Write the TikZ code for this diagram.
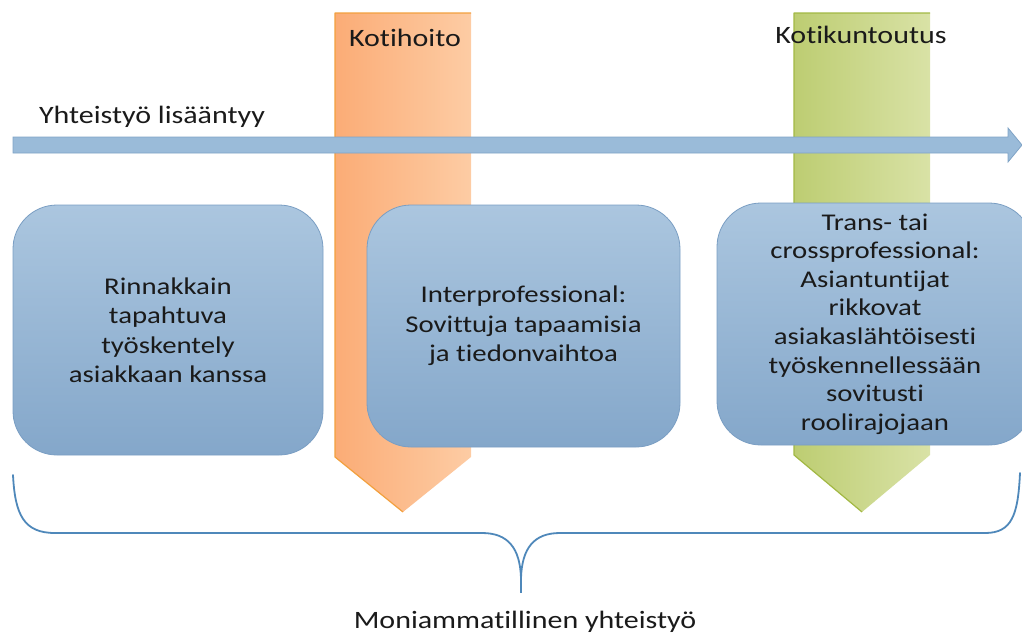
\documentclass[tikz,border=0pt]{standalone}
\usepackage{fontspec}
\setmainfont{Carlito}[FakeStretch=1.2, Ligatures=NoCommon]
\definecolor{orangeL}{HTML}{FBAC76}
\definecolor{orangeR}{HTML}{FDCCA4}
\definecolor{orangeEdge}{HTML}{F2A03E}
\definecolor{greenL}{HTML}{BDCD72}
\definecolor{greenR}{HTML}{D9E2A6}
\definecolor{greenEdge}{HTML}{A2B843}
\definecolor{barFill}{HTML}{9ABBD9}
\definecolor{barEdge}{HTML}{7FA3C6}
\definecolor{boxTop}{HTML}{ABC6DF}
\definecolor{boxBot}{HTML}{84A7CA}
\definecolor{boxEdge}{HTML}{7A9EC3}
\definecolor{braceCol}{HTML}{4F88BA}
\definecolor{ink}{HTML}{1A1A1A}
\tikzset{
  phasebox/.style={rounded corners=44pt, top color=boxTop, bottom color=boxBot,
    draw=boxEdge, line width=0.8pt, align=center, text=ink,
    font=\fontsize{24}{29.5}\selectfont, inner sep=0pt},
  label/.style={text=ink, font=\fontsize{25}{30}\selectfont, inner sep=0pt, anchor=base},
  edgeline/.style={line width=1.2pt, line join=round},
}
\begin{document}
\begin{tikzpicture}[x=1pt,y=-1pt]
\useasboundingbox (0,0) rectangle (1022,633);
\clip (0,0) rectangle (1022,633);

% service pointers behind everything
\shade[left color=orangeL, right color=orangeR]
  (335,13) -- (471,13) -- (471,457) -- (403,512) -- (335,457) -- cycle;
\draw[edgeline, orangeEdge] (471,13) -- (335,13) -- (335,457) -- (403,512);
\shade[left color=greenL, right color=greenR]
  (794,13) -- (930,13) -- (930,455) -- (862,512) -- (794,455) -- cycle;
\draw[edgeline, greenEdge] (930,13) -- (794,13) -- (794,455) -- (862,512);

\node[label] (koti) at (405,46) {Kotihoito};
\node[label] (kuntoutus) at (861,43) {Kotikuntoutus};

% growing collaboration arrow
\node[label] (growth) at (152,123) {Yhteistyö lisääntyy};
\filldraw[fill=barFill, draw=barEdge, line width=0.8pt]
  (13,137) -- (1008,137) -- (1008,128) -- (1022,145) -- (1008,162)
  -- (1008,153) -- (13,153) -- cycle;

% levels of collaboration
\node[phasebox, minimum width=310pt, minimum height=250pt] (rinnakkain) at (168,330)
  {Rinnakkain\\tapahtuva\\työskentely\\asiakkaan kanssa};
\node[phasebox, minimum width=313pt, minimum height=242pt] (inter) at (523.5,326)
  {Interprofessional:\\Sovittuja tapaamisia\\ja tiedonvaihtoa};
\node[phasebox, minimum width=316pt, minimum height=242pt, font=\fontsize{24}{28.6}\selectfont] (trans) at (875,324)
  {Trans- tai\\crossprofessional:\\Asiantuntijat\\rikkovat\\asiakaslähtöisesti\\työskennellessään\\sovitusti\\roolirajojaan};

% brace gathering all levels
\coordinate (braceL) at (13,475);
\coordinate (braceR) at (1020,473);
\coordinate (braceTip) at (521,578);
\coordinate (braceEnd) at (521,593);
\draw[braceCol, line width=1.8pt, line cap=round, line join=round]
  (braceL) .. controls (15,515) and (24,533) .. (55,533) -- (482,533)
  .. controls (508,533) and (520,548) .. (braceTip)
  .. controls (522,548) and (534,533) .. (560,533) -- (985,533)
  .. controls (1012,533) and (1018,515) .. (braceR);
\draw[braceCol, line width=1.8pt] (braceTip) -- (braceEnd);
\node[label] (multi) at (525,628) {Moniammatillinen yhteistyö};
\end{tikzpicture}
\end{document}
